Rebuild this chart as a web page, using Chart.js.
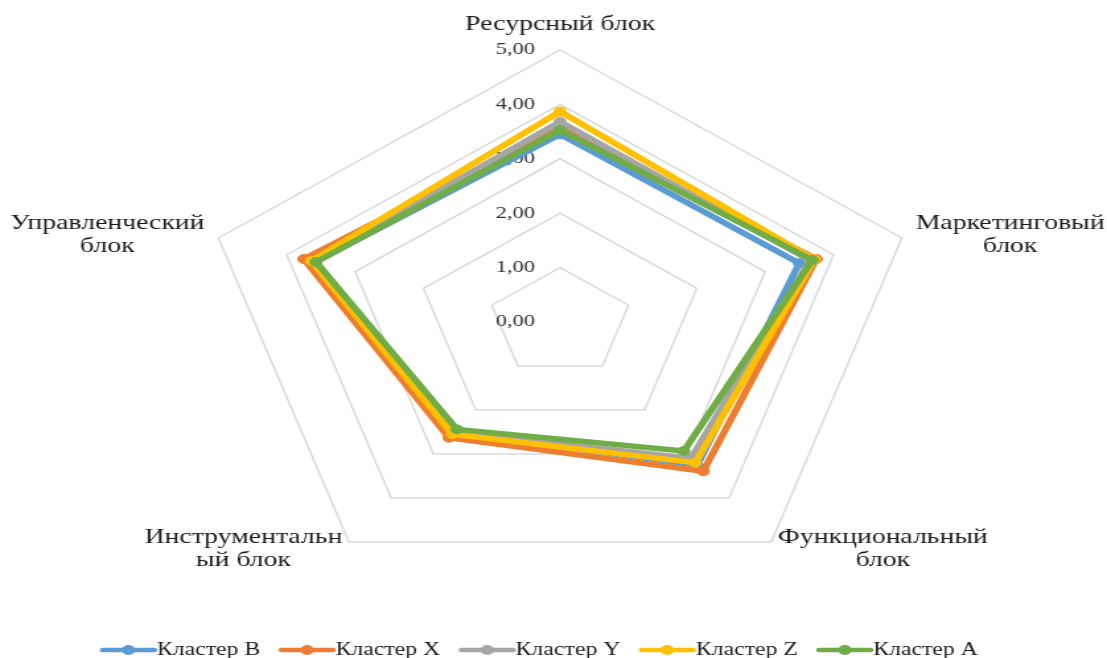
<!DOCTYPE html>
<html lang="ru">
<head>
<meta charset="utf-8">
<title>Кластеры по блокам</title>
<script src="https://cdn.jsdelivr.net/npm/chart.js@4.4.1/dist/chart.umd.min.js"></script>
<style>
  html, body { margin: 0; padding: 0; background: #fff; overflow: hidden; }
</style>
</head>
<body>
<!-- drawn narrow, shown wide: the whole radar is stretched sideways -->
<canvas id="radar" width="838" height="658" style="width:1107px;height:658px"></canvas>
<script>
document.addEventListener('DOMContentLoaded', () => {
  // axes of the radar, clockwise from the top
  const blocks = [
    ['Ресурсный блок'],
    ['Маркетинговый', 'блок'],
    ['Функциональный', 'блок'],
    ['Инструментальн', 'ый блок'],
    ['Управленческий', 'блок']
  ];

  const clusterNames = ['Кластер B', 'Кластер X', 'Кластер Y', 'Кластер Z', 'Кластер A'];
  const clusterB = [3.45, 3.50, 3.25, 2.52, 3.58];
  const clusterX = [3.58, 3.75, 3.39, 2.63, 3.75];
  const clusterY = [3.68, 3.66, 3.10, 2.50, 3.60];
  const clusterZ = [3.87, 3.72, 3.20, 2.55, 3.64];
  const clusterA = [3.53, 3.69, 2.93, 2.44, 3.57];

  const tickLabels = ['0,00', '1,00', '2,00', '3,00', '4,00', '5,00'];

  const colors = ['#5b9bd5', '#ed7d31', '#a5a5a5', '#ffc000', '#70ad47'];
  const serif = '"Liberation Serif", "Times New Roman", serif';

  // line-with-dot marker for the legend
  const legendMarker = (color) => {
    const c = document.createElement('canvas');
    c.width = 70;
    c.height = 14;
    const g = c.getContext('2d');
    g.strokeStyle = color;
    g.lineWidth = 4.5;
    g.lineCap = 'round';
    g.beginPath();
    g.moveTo(4, 7);
    g.lineTo(43, 7);
    g.stroke();
    g.fillStyle = color;
    g.beginPath();
    g.arc(23.5, 7, 5, 0, Math.PI * 2);
    g.fill();
    return c;
  };
  const markers = colors.map(legendMarker);

  // tick values left of the top axis, block names around the outside
  const blockLabels = {
    id: 'blockLabels',
    beforeDatasetsDraw(chart) {
      const scale = chart.scales.r;
      const ctx = chart.ctx;
      ctx.save();
      ctx.font = `17px ${serif}`;
      ctx.fillStyle = '#333333';
      ctx.textAlign = 'right';
      ctx.textBaseline = 'middle';
      tickLabels.forEach((text, v) => {
        const p = scale.getPointPositionForValue(0, v);
        ctx.fillText(text, scale.xCenter - 19, p.y);
      });
      ctx.restore();
    },
    afterDraw(chart) {
      const scale = chart.scales.r;
      const ctx = chart.ctx;
      const pads = [26, 11, 8.5, 8.5, 11];
      const lineH = 23;
      ctx.save();
      ctx.font = `21px ${serif}`;
      ctx.fillStyle = '#1a1a1a';
      ctx.textAlign = 'center';
      ctx.textBaseline = 'middle';
      blocks.forEach((lines, i) => {
        const p = scale.getPointPosition(i, scale.drawingArea + pads[i]);
        const w = Math.max(...lines.map(t => ctx.measureText(t).width));
        const dx = p.x - scale.xCenter;
        let cx = p.x;
        if (dx > 1) cx = p.x + w / 2;
        else if (dx < -1) cx = p.x - w / 2;
        const top = p.y - lines.length * lineH / 2;
        lines.forEach((t, k) => ctx.fillText(t, cx, top + lineH * k + lineH / 2));
      });
      ctx.restore();
    }
  };

  const series = [clusterB, clusterX, clusterY, clusterZ, clusterA];
  const datasets = series.map((values, i) => ({
    label: clusterNames[i],
    data: values,
    borderColor: colors[i],
    backgroundColor: colors[i],
    pointBackgroundColor: colors[i],
    pointBorderColor: colors[i],
    borderWidth: 5.5,
    borderJoinStyle: 'round',
    pointRadius: 4.5,
    pointBorderWidth: 1,
    fill: false,
    // later clusters are painted over earlier ones
    order: series.length - 1 - i
  }));

  new Chart(document.getElementById('radar'), {
    type: 'radar',
    data: {
      labels: blocks,
      datasets: datasets
    },
    options: {
      responsive: false,
      devicePixelRatio: 1,
      animation: false,
      layout: { padding: { top: 50, left: 10, right: 0, bottom: -11 } },
      scales: {
        r: {
          min: 0,
          max: 5,
          ticks: { stepSize: 1, display: false },
          grid: { color: '#d9d9d9', lineWidth: 1.5, circular: false },
          angleLines: { display: false },
          pointLabels: { display: false }
        }
      },
      plugins: {
        tooltip: { enabled: false },
        legend: {
          position: 'bottom',
          reverse: true,
          labels: {
            usePointStyle: true,
            pointStyleWidth: 2,
            padding: 46,
            color: '#1a1a1a',
            font: { family: serif, size: 18 },
            generateLabels(chart) {
              const items = Chart.defaults.plugins.legend.labels.generateLabels(chart);
              items.forEach(item => { item.pointStyle = markers[item.datasetIndex]; });
              return items;
            }
          }
        }
      }
    },
    plugins: [blockLabels]
  });
});
</script>
</body>
</html>
